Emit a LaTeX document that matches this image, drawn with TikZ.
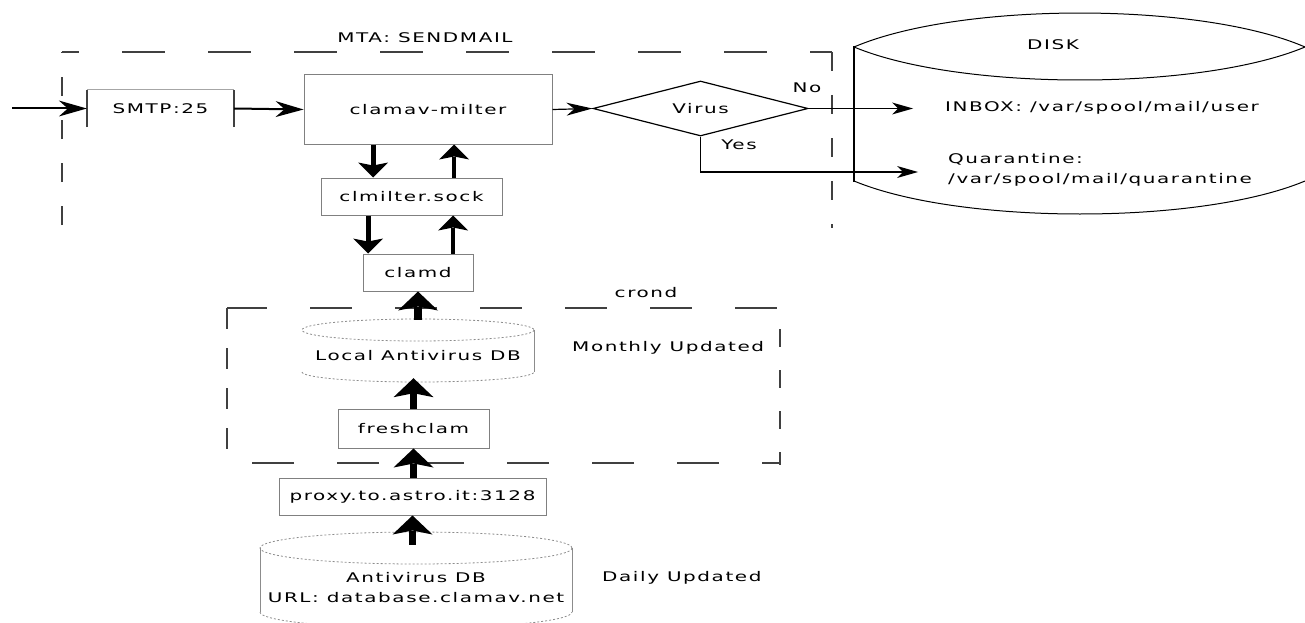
\documentclass[tikz,border=0pt]{standalone}
\usepackage{fontspec}
\setmainfont{DejaVu Sans}[FakeStretch=1.5,LetterSpace=12]
\usetikzlibrary{arrows.meta,shapes.geometric}
\begin{document}
\begin{tikzpicture}[x=1pt,y=-1pt,
  txt/.style={font=\fontsize{13.3}{20}\selectfont, inner sep=0pt},
  boxnode/.style={txt, draw=black!50, line width=1pt},
  hdash/.style={draw=black!75, line width=1.5pt, dash pattern=on 43pt off 43pt},
  vdash/.style={draw=black!75, line width=1.5pt, dash pattern=on 19pt off 24pt},
  dotline/.style={draw=black!45, line width=0.8pt, dash pattern=on 2pt off 2pt},
  sideline/.style={draw=black!45, line width=1pt},
  inarrow/.style={line width=2pt, -{Stealth[length=28pt,width=16pt,inset=9pt,line width=0pt]}},
  midarrow/.style={line width=1.2pt, -{Stealth[length=26pt,width=13pt,inset=8pt,line width=0pt]}},
  diskarrow/.style={line width=1.3pt, -{Stealth[length=21pt,width=12pt,inset=6pt,line width=0pt]}},
  upperarrow/.style={line width=5pt, -{Stealth[length=15pt,width=30pt,inset=3pt,line width=0pt]}},
  lowerarrow/.style={line width=7.5pt, -{Stealth[length=19pt,width=40pt,inset=4pt,line width=0pt]}}
]
\useasboundingbox (0,0) rectangle (1305,623);

% ---------- MTA frame ----------
\draw[vdash] (62,225) -- (62,52);
\draw[hdash, dash phase=26pt] (62,52) -- (832,52);
\draw[vdash] (832,52) -- (832,228);
\node[txt] (mta) at (425,38) {MTA: SENDMAIL};

% ---------- crond frame ----------
\draw[hdash, dash pattern=on 42pt off 43pt, dash phase=2pt] (227,308) -- (780,308);
\draw[vdash, dash pattern=on 18pt off 23pt, dash phase=20pt] (780,308) -- (780,465);
\draw[hdash, dash pattern=on 42pt off 43pt, dash phase=24pt] (780,463) -- (227,463);
\draw[vdash, dash pattern=on 21pt off 19pt] (227,308) -- (227,453);
\node[txt] (crond) at (646,293) {crond};
\node[txt, anchor=west] (monthly) at (572,348) {Monthly Updated};
\node[txt, anchor=west] (daily) at (602,578) {Daily Updated};

% ---------- SMTP ----------
\node[txt, minimum width=147pt, minimum height=37pt] (smtp) at (160.5,108.5) {SMTP:25};
\draw[black!35, line width=1pt] (smtp.north west) -- (smtp.north east);
\draw[black!75, line width=1.5pt] (smtp.south west) -- (smtp.north west);
\draw[black!75, line width=1.5pt] (smtp.south east) -- (smtp.north east);
\coordinate (src) at (12,108.5);
\draw[inarrow] (src) -- (smtp.west);

% ---------- clamav-milter ----------
\node[boxnode, minimum width=248pt, minimum height=69pt] (milter) at (428,109.5) {clamav-milter};
\draw[inarrow] (smtp.east) -- (milter.west);

% ---------- Virus decision ----------
\node[txt, diamond, draw=black, line width=1.2pt, aspect=3.9, minimum width=215pt, minimum height=55pt] (virus) at (700.5,108.5) {Virus};
\draw[midarrow] (milter.east) -- (virus.west);
\node[txt] (no) at (807,88) {No};
\node[txt] (yes) at (739,145) {Yes};

% ---------- DISK ----------
\draw[black, line width=1pt] (854,47) .. controls (960,1.7) and (1200,1.7) .. (1305,47);
\draw[black, line width=1pt] (854,47) .. controls (960,91) and (1200,91) .. (1305,47);
\draw[black, line width=1pt] (854,181) .. controls (960,225) and (1200,225) .. (1305,181);
\draw[black, line width=2.5pt] (854,46) -- (854,182);
\node[txt] (disk) at (1053,45) {DISK};
\node[txt, anchor=west] (inbox) at (945,108) {INBOX: /var/spool/mail/user};
\node[txt, anchor=west, align=left] (quar) at (948,170) {Quarantine:\\/var/spool/mail/quarantine};
\coordinate (inboxin) at (913,108.5);
\coordinate (quarin) at (918,172);
\draw[diskarrow] (virus.east) -- (inboxin);
\draw[diskarrow] (virus.south) |- (quarin);

% ---------- clmilter.sock / clamd ----------
\node[boxnode, minimum width=181pt, minimum height=37pt] (sock) at (411.5,196.5) {clmilter.sock};
\node[boxnode, minimum width=110pt, minimum height=37pt] (clamd) at (418,272.5) {clamd};
\draw[upperarrow] ([xshift=-55pt]milter.south) -- ([xshift=-55pt]milter.south |- sock.north);
\draw[upperarrow, line width=4pt] ([xshift=26pt]milter.south |- sock.north) -- ([xshift=26pt]milter.south);
\draw[upperarrow] ([xshift=-50pt]clamd.north |- sock.south) -- ([xshift=-50pt]clamd.north);
\draw[upperarrow, line width=4pt] ([xshift=35pt]clamd.north) -- ([xshift=35pt]clamd.north |- sock.south);

% ---------- Local Antivirus DB ----------
\node[txt, minimum width=232pt, minimum height=63pt] (localdb) at (418,350.5) {};
\node[txt] (localtxt) at (418,356) {Local Antivirus DB};
\draw[dotline] (418,330) ellipse [x radius=116, y radius=11];
\draw[dotline] (302,372) arc [start angle=180, end angle=360, x radius=116, y radius=-10];
\draw[sideline] (534,330) -- (534,372);
\draw[lowerarrow] ([yshift=-1pt]localdb.north) -- (clamd.south);

% ---------- freshclam / proxy ----------
\node[boxnode, minimum width=151pt, minimum height=39pt] (fresh) at (413.5,428.5) {freshclam};
\node[boxnode, minimum width=267pt, minimum height=37pt] (proxy) at (412.5,496.5) {proxy.to.astro.it:3128};
\draw[lowerarrow] (fresh.north) -- ([yshift=4pt]fresh.north |- localdb.south);
\draw[lowerarrow] (proxy.north -| fresh.north) -- (fresh.south);

% ---------- Antivirus DB ----------
\node[txt, minimum width=312pt, minimum height=91pt] (avdb) at (416,577.5) {};
\node[txt, align=center] (avtxt) at (416,588) {Antivirus DB\\URL: database.clamav.net};
\draw[dotline] (416,548) ellipse [x radius=156, y radius=16];
\draw[dotline] (260,612) arc [start angle=180, end angle=360, x radius=156, y radius=-16];
\draw[sideline] (260,548) -- (260,612);
\draw[sideline] (572,548) -- (572,612);
\draw[lowerarrow] ([yshift=-13pt]avdb.north -| proxy.south) -- (proxy.south);
\end{tikzpicture}
\end{document}
